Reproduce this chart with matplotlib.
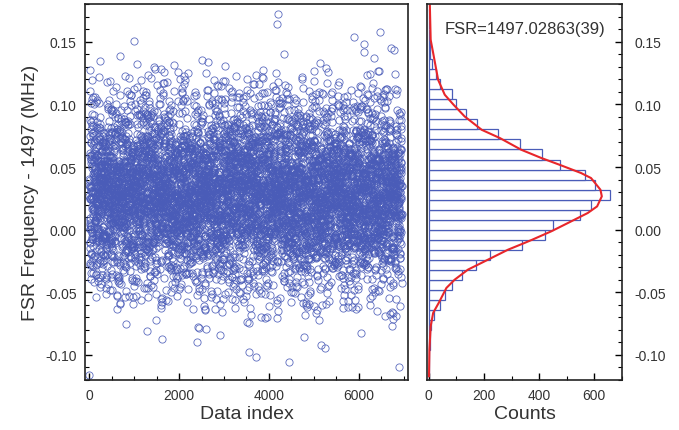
import numpy as np
import matplotlib.pyplot as plt
from matplotlib.ticker import MultipleLocator

plt.rcParams['font.family'] = ['Liberation Sans', 'DejaVu Sans']

# histogram of FSR - 1497 (MHz), bin width 0.008 MHz
bin_width = 0.008
bin_centers = [-0.116, -0.108, -0.100, -0.092, -0.084, -0.076, -0.068, -0.060,
               -0.052, -0.044, -0.036, -0.028, -0.020, -0.012, -0.004, 0.004,
               0.012, 0.020, 0.028, 0.036, 0.044, 0.052, 0.060, 0.068,
               0.076, 0.084, 0.092, 0.100, 0.108, 0.116, 0.124, 0.132,
               0.140, 0.148, 0.156, 0.164, 0.172]
counts = [1, 2, 2, 3, 5, 8, 18, 42,
          58, 84, 122, 172, 223, 338, 422, 449,
          548, 588, 655, 604, 567, 474, 410, 329,
          251, 176, 134, 98, 84, 40, 28, 10,
          5, 3, 2, 1, 1]

# fitted curve
fit_freq = [-0.117, -0.0957, -0.0771, -0.0664, -0.0585, -0.0465, -0.0399, -0.0319,
            -0.0239, -0.016, -0.0106, -0.008, -0.0013, 0.0053, 0.0133, 0.0186,
            0.0266, 0.0319, 0.0412, 0.0452, 0.0518, 0.0572, 0.0638, 0.0731,
            0.0797, 0.0904, 0.0997, 0.1077, 0.1196, 0.141, 0.1515, 0.179]
fit_counts = [1, 2.5, 7, 16, 36, 64, 94, 142,
              215, 287, 347, 375, 444, 504, 576, 610,
              627, 622, 588, 552, 474, 408, 335, 258,
              192, 130, 90, 58, 34, 16, 7, 4]

fit_label = 'FSR=1497.02863(39)'

# individual measurements rebuilt from the histogram bins,
# spread over the run with a quadratic Weyl ordering
values = []
for c, n in zip(bin_centers, counts):
    for j in range(n):
        values.append(c - bin_width / 2 + (j + 0.5) / n * bin_width)
values = np.array(values)
N = len(values)
i = np.arange(N, dtype=np.float64)
key = np.mod(i * i * 0.6180339887498949, 1.0)
freq = values[np.argsort(np.argsort(key))]
index = np.arange(N)

blue = '#4a5cb8'
text_col = '#333333'

fig = plt.figure(figsize=(6.79, 4.31), dpi=100)
ax1 = fig.add_axes([0.125, 0.116, 0.476, 0.872])
ax2 = fig.add_axes([0.629, 0.116, 0.287, 0.872], sharey=ax1)

ax1.plot(index, freq, 'o', ms=5.2, mfc='none', mec=blue, mew=0.6, alpha=0.9)
ax1.set_xlim(-100, 7100)
ax1.set_ylim(-0.12, 0.18)
ax1.xaxis.set_major_locator(MultipleLocator(2000))
ax1.xaxis.set_minor_locator(MultipleLocator(500))
ax1.yaxis.set_major_locator(MultipleLocator(0.05))
ax1.yaxis.set_minor_locator(MultipleLocator(0.01))
ax1.yaxis.set_major_formatter(plt.FuncFormatter(lambda v, p: '%.2f' % v))
ax1.set_xlabel('Data index', fontsize=14, color=text_col, labelpad=2)
ax1.set_ylabel('FSR Frequency - 1497 (MHz)', fontsize=14, color=text_col, labelpad=4)
ax1.tick_params(which='both', direction='in', top=False, right=False,
                labelsize=10, labelcolor=text_col, pad=6)
ax1.tick_params(which='major', length=5, width=1)
ax1.tick_params(which='minor', length=3, width=0.8)

ax2.barh(bin_centers, counts, height=bin_width, left=0, color='white',
         edgecolor=blue, linewidth=0.9)
ax2.plot(fit_counts, fit_freq, color='#e8262a', lw=1.5)
ax2.set_xlim(-6, 700)
ax2.xaxis.set_major_locator(MultipleLocator(200))
ax2.xaxis.set_minor_locator(MultipleLocator(100))
ax2.set_xlabel('Counts', fontsize=14, color=text_col, labelpad=2)
ax2.yaxis.tick_right()
ax2.tick_params(which='both', direction='in', top=False, left=False,
                labelsize=10, labelcolor=text_col, pad=6)
ax2.tick_params(axis='y', pad=9)
ax2.tick_params(which='major', length=5, width=1)
ax2.tick_params(which='minor', length=3, width=0.8)
ax2.text(0.5, 0.935, fit_label, transform=ax2.transAxes, ha='center', va='center',
         fontsize=12, color=text_col)

for ax in (ax1, ax2):
    for s in ax.spines.values():
        s.set_linewidth(1.2)
        s.set_color('#222222')

fig.savefig('out.png', dpi=100)
